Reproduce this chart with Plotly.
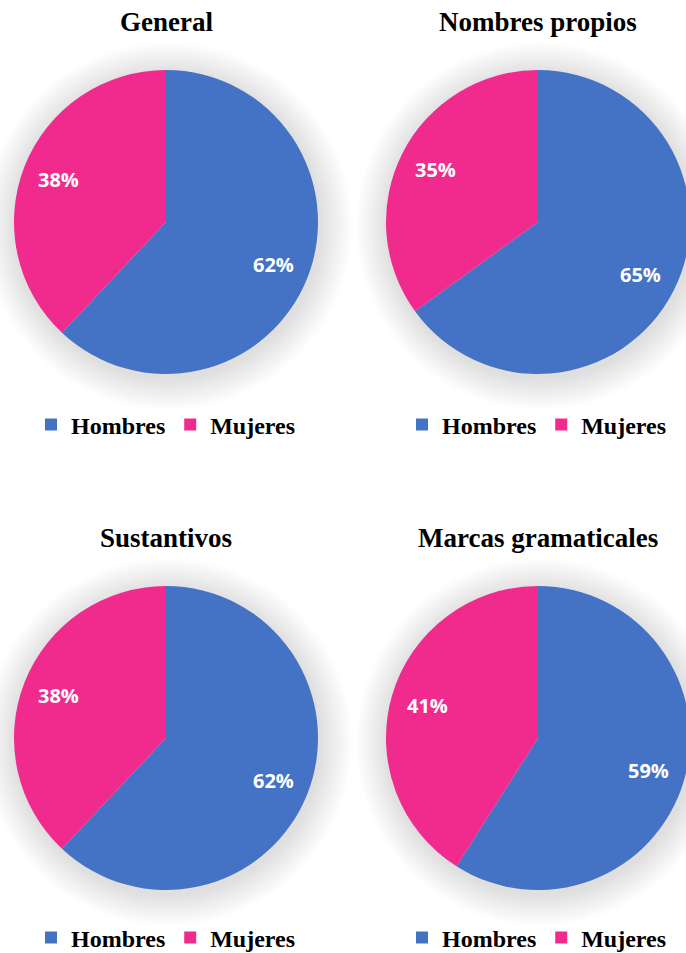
import math
import plotly.graph_objects as go

titles = ["General", "Nombres propios", "Sustantivos", "Marcas gramaticales"]
labels = ["Hombres", "Mujeres"]
hombres = [62, 65, 62, 59]
mujeres = [38, 35, 38, 41]
colors = ["#4472C4", "#F12B8E"]

# figure slightly larger than the 686x953 window; right/bottom overflow is clipped like the reference
W, H = 696, 970
centers = [(166, 222), (538, 222), (166, 738), (538, 738)]
R = 152
title_y = [22, 22, 538, 538]
title_x = [166, 538, 166, 538]
legend_y = [425, 425, 938, 938]
legend_x = [166, 537, 166, 537]
LABEL_R = 0.76


def px(x):
    return x / W


def py(y):
    return 1 - y / H


fig = go.Figure()
shapes = []
annotations = []
for i in range(4):
    cx, cy = centers[i]
    lg = "legend" if i == 0 else f"legend{i+1}"
    vals = [hombres[i], mujeres[i]]
    zw = "\u200b" * i
    fig.add_trace(go.Pie(
        labels=[l + zw for l in labels],
        values=vals,
        marker=dict(colors=colors, line=dict(width=0)),
        sort=False,
        direction="clockwise",
        rotation=0,
        textinfo="none",
        domain=dict(x=[px(cx - R), px(cx + R)], y=[py(cy + R), py(cy - R)]),
        legend=lg,
        hoverinfo="label+percent",
    ))
    total = sum(vals)
    cum = 0
    for v in vals:
        mid = (cum + v / 2) / total
        cum += v
        th = 2 * math.pi * mid
        lx = cx + LABEL_R * R * math.sin(th)
        ly = cy - LABEL_R * R * math.cos(th)
        annotations.append(dict(
            text=f"<b>{round(100 * v / total)}%</b>", x=px(lx), y=py(ly),
            xref="paper", yref="paper", xanchor="center", yanchor="middle",
            showarrow=False, font=dict(family="Open Sans", size=20, color="white"),
        ))
    n = 16
    for k in range(n):
        rr = R + 2 + k * 2
        ox, oy = 2, 4
        shapes.append(dict(
            type="circle", xref="paper", yref="paper", layer="below",
            x0=px(cx + ox - rr), x1=px(cx + ox + rr),
            y0=py(cy + oy + rr), y1=py(cy + oy - rr),
            fillcolor="rgba(0,0,0,0.0062)", line=dict(width=0),
        ))
    annotations.append(dict(
        text=f"<b>{titles[i]}</b>", x=px(title_x[i]), y=py(title_y[i]),
        xref="paper", yref="paper", xanchor="center", yanchor="middle",
        showarrow=False, font=dict(family="Liberation Serif", size=27, color="black"),
    ))

legend_style = dict(
    orientation="h", xanchor="center", yanchor="middle",
    font=dict(family="Liberation Serif", size=24, color="black", weight="bold"),
    bgcolor="rgba(0,0,0,0)", itemclick=False,
)
layout_legends = {}
for i in range(4):
    key = "legend" if i == 0 else f"legend{i+1}"
    layout_legends[key] = dict(legend_style, x=px(legend_x[i]), y=py(legend_y[i]))

fig.update_layout(
    width=W, height=H,
    margin=dict(l=0, r=0, t=0, b=0, autoexpand=False),
    paper_bgcolor="white", plot_bgcolor="white",
    shapes=shapes, annotations=annotations,
    showlegend=True,
    **layout_legends,
)

fig.write_html(
    "out.html",
    config={"displayModeBar": False},
    post_script=(
        "document.body.style.margin='0';"
        "document.body.style.overflow='hidden';"
        "document.documentElement.style.overflow='hidden';"
    ),
)
